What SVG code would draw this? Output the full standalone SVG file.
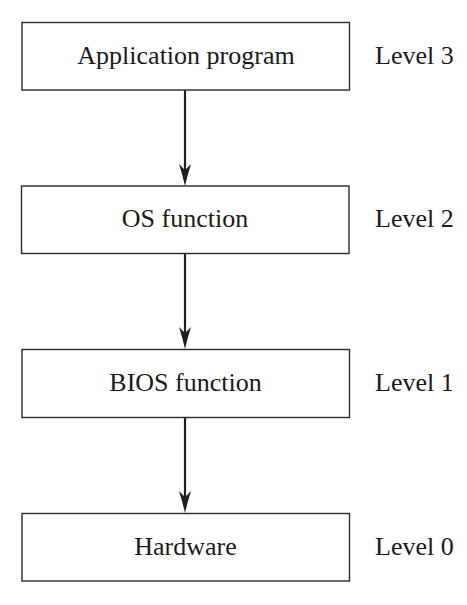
<svg xmlns="http://www.w3.org/2000/svg" width="467" height="605" viewBox="0 0 467 605">
<style>
.box{fill:#fff;stroke:#2a2a2a;stroke-width:1.4}
.t{font-family:"Liberation Serif","Times New Roman",serif;font-size:26px;fill:#1a1a1a}
.c{text-anchor:middle}
.line{stroke:#1f1f1f;stroke-width:2.2;fill:none}
.head{fill:#1f1f1f}
</style>
<defs>
<path id="ah" class="head" d="M0,0 Q-2.5,-11 -6,-22 L0,-16 L6,-22 Q2.5,-11 0,0 Z"/>
</defs>
<rect width="467" height="605" fill="#fff"/>
<g id="connectors">
<line class="line" x1="185" y1="90" x2="185" y2="170"/>
<use href="#ah" x="185" y="186"/>
<line class="line" x1="185" y1="254" x2="185" y2="333"/>
<use href="#ah" x="185" y="349"/>
<line class="line" x1="185" y1="418" x2="185" y2="497"/>
<use href="#ah" x="185" y="513"/>
</g>
<g id="node-app">
<rect class="box" x="22" y="22.5" width="327.5" height="67.5"/>
<text class="t c" x="186" y="63.5">Application program</text>
<text class="t" x="375" y="63.5">Level 3</text>
</g>
<g id="node-os">
<rect class="box" x="21.5" y="186" width="327.5" height="67.5"/>
<text class="t c" x="185" y="227">OS function</text>
<text class="t" x="375" y="227">Level 2</text>
</g>
<g id="node-bios">
<rect class="box" x="22" y="349.5" width="327.5" height="68"/>
<text class="t c" x="185.5" y="391">BIOS function</text>
<text class="t" x="375" y="391">Level 1</text>
</g>
<g id="node-hw">
<rect class="box" x="22" y="513.5" width="327.5" height="67.5"/>
<text class="t c" x="185.5" y="555">Hardware</text>
<text class="t" x="375" y="555">Level 0</text>
</g>
</svg>
